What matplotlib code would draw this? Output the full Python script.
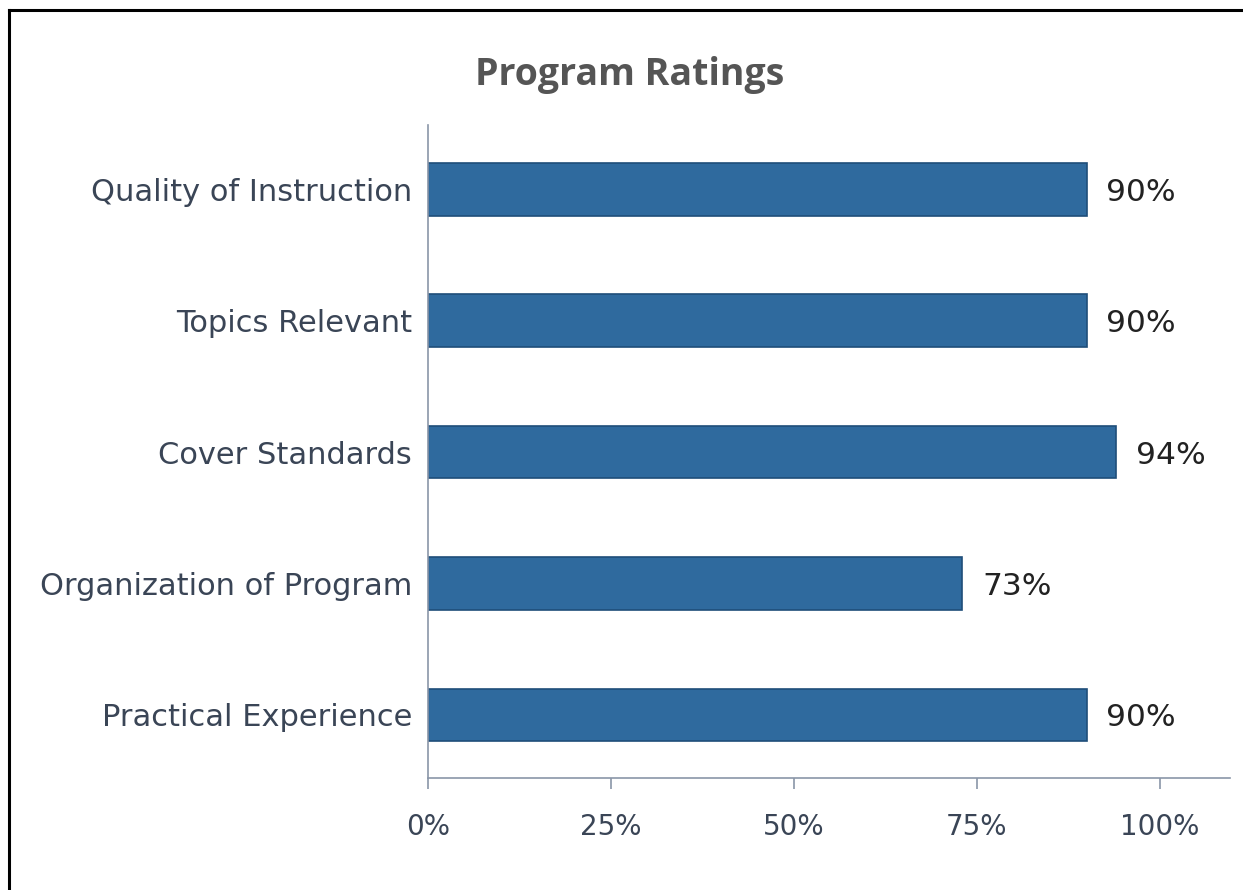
import matplotlib
matplotlib.use("Agg")
import matplotlib.pyplot as plt
from matplotlib.lines import Line2D

categories = ["Quality of Instruction", "Topics Relevant", "Cover Standards",
              "Organization of Program", "Practical Experience"]
values = [90, 90, 94, 73, 90]
xticks = [0, 25, 50, 75, 100]
xtick_labels = ["0%", "25%", "50%", "75%", "100%"]
title = "Program Ratings"

plt.rcParams['font.family'] = ['DejaVu Sans']
text_col = "#3a4556"
axis_col = "#8a96a8"

fig = plt.figure(figsize=(12.43, 8.90), dpi=100)
W, H = 1243, 890
ax = fig.add_axes([428 / W, 1 - 778 / H, (1230 - 428) / W, (778 - 125) / H])

ypos = list(range(len(categories)))[::-1]
ax.barh(ypos, values, height=0.40, color="#2f6a9e", edgecolor="#1f4e79", linewidth=1.2)
for y, v in zip(ypos, values):
    ax.text(v + 2.7, y, f"{v}%", va="center_baseline", ha="left", fontsize=22.5,
            color="#222222")

ax.set_xlim(0, 109.6)
ax.set_ylim(-0.48, 4.49)
ax.set_yticks(ypos)
ax.set_yticklabels(categories, fontsize=22, color=text_col)
ax.set_xticks(xticks)
ax.set_xticklabels(xtick_labels, fontsize=20, color=text_col)
ax.tick_params(axis="y", length=0, pad=11.5)
ax.tick_params(axis="x", length=8, width=1.2, color=axis_col, pad=17)
for s in ["top", "right"]:
    ax.spines[s].set_visible(False)
for s in ["left", "bottom"]:
    ax.spines[s].set_color(axis_col)
    ax.spines[s].set_linewidth(1.2)

fig.text(630 / W, 1 - 75 / H, title, ha="center", va="center", fontsize=27,
         fontweight="bold", color="#555555", family=['Open Sans', 'DejaVu Sans'])

fig.add_artist(Line2D([8.5 / W, 8.5 / W], [0, 1 - 10 / H], transform=fig.transFigure,
                      color="black", linewidth=2.2))
fig.add_artist(Line2D([8.5 / W, 1], [1 - 10 / H, 1 - 10 / H], transform=fig.transFigure,
                      color="black", linewidth=2.2))

fig.savefig("out.png", dpi=100)
